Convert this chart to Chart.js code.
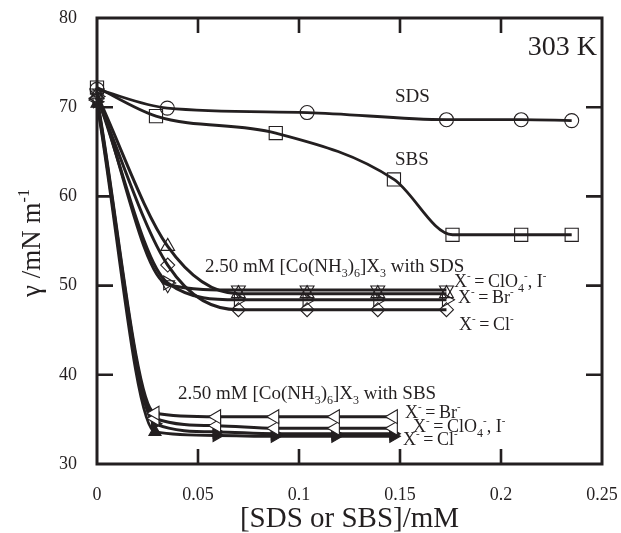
<!DOCTYPE html>
<html><head><meta charset="utf-8">
<script src="https://cdn.jsdelivr.net/npm/chart.js@4.4.1/dist/chart.umd.min.js"></script>
<style>html,body{margin:0;padding:0;background:#fff;}#wrap{width:621px;height:533px;}</style>
</head><body><div id="wrap"><canvas id="c" width="621" height="533"></canvas></div>
<script>
// ---- axis ticks ----
const xTicks = [0, 0.05, 0.1, 0.15, 0.2, 0.25];
const xTickLabels = ['0', '0.05', '0.1', '0.15', '0.2', '0.25'];
const yTicks = [30, 40, 50, 60, 70, 80];
const yTickLabels = ['30', '40', '50', '60', '70', '80'];

// ---- pure surfactants ----
const sdsX = [0, 0.0348, 0.104, 0.173, 0.21, 0.235];
const sdsY = [72.0, 69.9, 69.4, 68.6, 68.6, 68.5];
const sbsX = [0, 0.0292, 0.0885, 0.147, 0.176, 0.21, 0.235];
const sbsY = [72.2, 69.0, 67.1, 61.9, 55.7, 55.7, 55.7];

// ---- 2.50 mM [Co(NH3)6]X3 with SDS ----
const coSdsX = [0, 0.035, 0.070, 0.104, 0.139, 0.173];
const coSdsClO4 = [71.6, 50.1, 49.5, 49.5, 49.5, 49.5];
const coSdsI = [71.4, 54.4, 49.1, 49.1, 49.1, 49.1];
const coSdsBr = [71.2, 50.3, 48.4, 48.4, 48.4, 48.4];
const coSdsCl = [71.0, 52.3, 47.3, 47.3, 47.3, 47.3];

// ---- 2.50 mM [Co(NH3)6]X3 with SBS ----
const coSbsX = [0, 0.0287, 0.0592, 0.088, 0.118, 0.1467];
const coSbsBr = [71.0, 35.7, 35.3, 35.3, 35.3, 35.3];
const coSbsClO4 = [70.8, 35.1, 34.3, 34.0, 34.0, 34.0];
const coSbsI = [70.6, 34.5, 33.6, 33.4, 33.4, 33.4];
const coSbsCl = [70.4, 33.6, 33.2, 33.1, 33.1, 33.1];

const INK = '#231f20';
const SERIF = '"Liberation Serif", "Times New Roman", serif';

function pts(xs, ys) { return xs.map((x, i) => ({x: x, y: ys[i]})); }
function ds(label, xs, ys, o) {
  return Object.assign({
    label: label, data: pts(xs, ys),
    borderColor: INK, borderWidth: 2.8,
    cubicInterpolationMode: 'monotone',
    pointBorderColor: INK, pointBackgroundColor: 'rgba(0,0,0,0)',
    pointBorderWidth: 1.1, pointRadius: 7, clip: false
  }, o);
}

const datasets = [
  ds('SDS', sdsX, sdsY, {pointStyle: 'circle', pointRadius: 7}),
  ds('SBS', sbsX, sbsY, {pointStyle: 'rect', pointRadius: 9.3}),
  ds('SDS ClO4', coSdsX, coSdsClO4, {pointStyle: 'triangle', pointRotation: 180, pointRadius: 8, borderWidth: 3}),
  ds('SDS I', coSdsX, coSdsI, {pointStyle: 'triangle', pointRadius: 8, borderWidth: 3}),
  ds('SDS Br', coSdsX, coSdsBr, {pointStyle: 'triangle', pointRotation: 90, pointRadius: 8, borderWidth: 3}),
  ds('SDS Cl', coSdsX, coSdsCl, {pointStyle: 'rectRot', pointRadius: 7, borderWidth: 3}),
  ds('SBS Br', coSbsX, coSbsBr, {pointStyle: 'triangle', pointRotation: 270, pointRadius: 8, borderWidth: 3, pointBackgroundColor: '#fff'}),
  ds('SBS ClO4', coSbsX, coSbsClO4, {pointStyle: 'triangle', pointRotation: 270, pointRadius: 8, borderWidth: 3, pointBackgroundColor: '#fff'}),
  ds('SBS I', coSbsX, coSbsI, {pointStyle: 'triangle', pointRotation: 90, pointRadius: 7, borderWidth: 3, pointBackgroundColor: INK}),
  ds('SBS Cl', coSbsX, coSbsCl, {pointStyle: 'triangle', pointRotation: [0, 0, 90, 90, 90, 90], pointRadius: 7, borderWidth: 3, pointBackgroundColor: INK})
];

function rich(ctx, x, y, parts, size, align) {
  const fonts = {n: size, sup: Math.round(size * 0.6), sub: Math.round(size * 0.65)};
  const shift = {n: 0, sup: -size * 0.42, sub: size * 0.25};
  let total = 0;
  parts.forEach(p => { ctx.font = fonts[p[1]] + 'px ' + SERIF; total += ctx.measureText(p[0]).width; });
  let cx = x;
  if (align === 'right') cx = x - total;
  if (align === 'center') cx = x - total / 2;
  ctx.textAlign = 'left';
  ctx.textBaseline = 'alphabetic';
  parts.forEach(p => {
    ctx.font = fonts[p[1]] + 'px ' + SERIF;
    ctx.fillText(p[0], cx, y + shift[p[1]]);
    cx += ctx.measureText(p[0]).width;
  });
}

const TS = '\u2009';
const frame = {
  id: 'frame',
  afterDatasetsDraw(chart) {
    const ctx = chart.ctx, a = chart.chartArea;
    const xs = chart.scales.x, ys = chart.scales.y;
    ctx.save();
    ctx.strokeStyle = INK; ctx.lineWidth = 3;
    ctx.strokeRect(a.left, a.top, a.right - a.left, a.bottom - a.top);
    ctx.lineWidth = 2.6;
    ctx.beginPath();
    xTicks.slice(1, -1).forEach(v => {
      const px = xs.getPixelForValue(v);
      ctx.moveTo(px, a.bottom); ctx.lineTo(px, a.bottom - 15);
      ctx.moveTo(px, a.top); ctx.lineTo(px, a.top + 15);
    });
    yTicks.slice(1, -1).forEach(v => {
      const py = ys.getPixelForValue(v);
      ctx.moveTo(a.left, py); ctx.lineTo(a.left + 16, py);
      ctx.moveTo(a.right, py); ctx.lineTo(a.right - 16, py);
    });
    ctx.stroke();
    ctx.restore();
  },
  afterDraw(chart) {
    const ctx = chart.ctx, a = chart.chartArea;
    ctx.save();
    ctx.fillStyle = INK;
    // axis titles
    rich(ctx, (a.left + a.right) / 2, 527, [['[SDS or SBS]/mM', 'n']], 29, 'center');
    ctx.save();
    ctx.translate(40, 243);
    ctx.rotate(-Math.PI / 2);
    rich(ctx, 0, 0, [['\u03b3 /mN m', 'n'], ['-1', 'sup']], 27, 'center');
    ctx.restore();
    // annotations
    rich(ctx, 597, 55, [['303 K', 'n']], 28, 'right');
    rich(ctx, 395, 102, [['SDS', 'n']], 19, 'left');
    rich(ctx, 395, 165, [['SBS', 'n']], 19, 'left');
    const co = (s) => [['2.50 mM [Co(NH', 'n'], ['3', 'sub'], [')', 'n'], ['6', 'sub'], [']X', 'n'], ['3', 'sub'], [' with ' + s, 'n']];
    rich(ctx, 205, 272, co('SDS'), 19, 'left');
    rich(ctx, 178, 399, co('SBS'), 19, 'left');
    const xl = (ion) => {
      if (ion === 'ClO4') return [['X', 'n'], ['-', 'sup'], [TS + '=' + TS + 'ClO', 'n'], ['4', 'sub'], ['-', 'sup'], [', I', 'n'], ['-', 'sup']];
      return [['X', 'n'], ['-', 'sup'], [TS + '=' + TS + ion, 'n'], ['-', 'sup']];
    };
    rich(ctx, 454, 287, xl('ClO4'), 18, 'left');
    rich(ctx, 458, 303, xl('Br'), 18, 'left');
    rich(ctx, 459, 330, xl('Cl'), 18, 'left');
    rich(ctx, 405, 418, xl('Br'), 18, 'left');
    rich(ctx, 413, 432, xl('ClO4'), 18, 'left');
    rich(ctx, 403, 445, xl('Cl'), 18, 'left');
    ctx.restore();
  }
};

new Chart(document.getElementById('c'), {
  type: 'line',
  data: {datasets: datasets},
  options: {
    responsive: false, animation: false, devicePixelRatio: 1,
    layout: {padding: {top: 18, right: 19, left: 0, bottom: 0}},
    plugins: {legend: {display: false}, tooltip: {enabled: false}},
    scales: {
      x: {
        type: 'linear', min: 0, max: 0.25,
        afterBuildTicks: s => { s.ticks = xTicks.map(v => ({value: v})); },
        afterFit: s => { s.height = 69; },
        ticks: {callback: (v, i) => xTickLabels[i], font: {family: SERIF, size: 18}, color: INK, padding: 0, maxRotation: 0, autoSkip: false},
        grid: {drawOnChartArea: false, drawTicks: true, tickLength: 20, tickColor: 'rgba(0,0,0,0)'},
        border: {display: false}
      },
      y: {
        type: 'linear', min: 30, max: 80,
        afterBuildTicks: s => { s.ticks = yTicks.map(v => ({value: v})); },
        afterFit: s => { s.width = 97; },
        ticks: {callback: (v, i) => yTickLabels[i], font: {family: SERIF, size: 18}, color: INK, padding: 0, autoSkip: false},
        grid: {drawOnChartArea: false, drawTicks: true, tickLength: 20, tickColor: 'rgba(0,0,0,0)'},
        border: {display: false}
      }
    }
  },
  plugins: [frame]
});
</script></body></html>
